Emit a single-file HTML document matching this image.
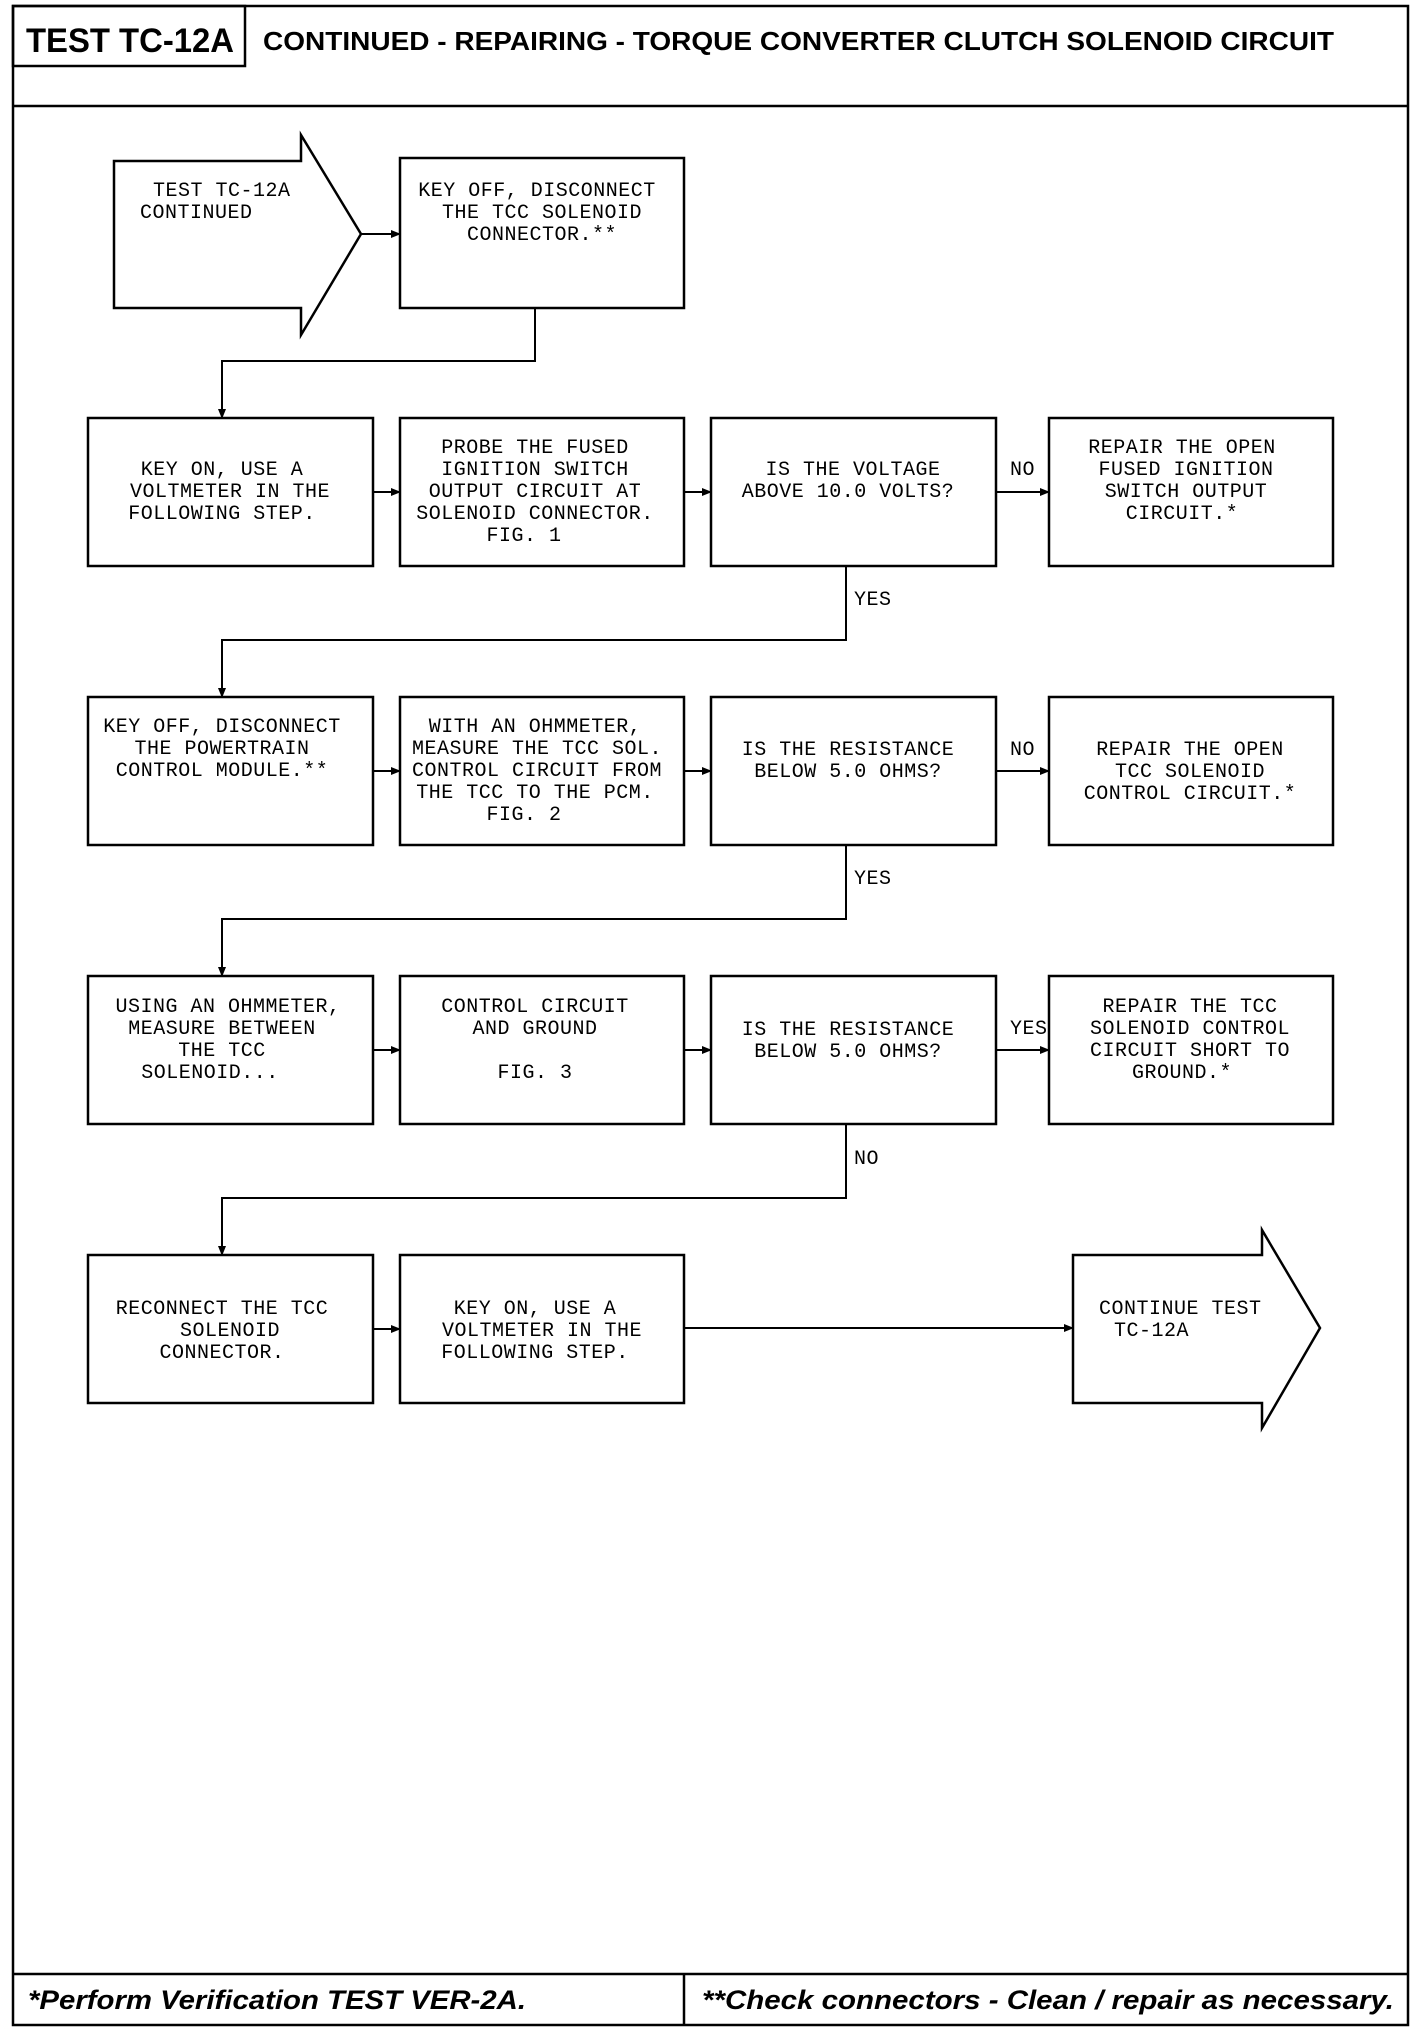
<!DOCTYPE html>
<html><head><meta charset="utf-8"><style>
html,body{margin:0;padding:0;background:#fff}
svg{display:block}
.t{font-family:"Liberation Mono",monospace;font-size:20px;letter-spacing:0.5px;fill:#000}
.b{fill:none;stroke:#000;stroke-width:2.5}
.l{fill:none;stroke:#000;stroke-width:2}
</style></head><body>
<svg width="1424" height="2032" viewBox="0 0 1424 2032" xmlns="http://www.w3.org/2000/svg">
<defs><marker id="a" markerWidth="10" markerHeight="10" refX="9" refY="5" orient="auto" markerUnits="userSpaceOnUse"><path d="M0,1 L10,5 L0,9 Z" fill="#000"/></marker></defs>
<rect x="13" y="6" width="1395" height="2019" class="b" stroke-width="3"/>
<line x1="13" y1="106" x2="1408" y2="106" class="b" stroke-width="3"/>
<rect x="13" y="6" width="232" height="60" class="b"/>
<text x="26" y="52" font-family="Liberation Sans,sans-serif" font-weight="bold" font-size="34" textLength="208" lengthAdjust="spacingAndGlyphs">TEST TC-12A</text>
<text x="263" y="50" font-family="Liberation Sans,sans-serif" font-weight="bold" font-size="26" textLength="1071" lengthAdjust="spacingAndGlyphs">CONTINUED - REPAIRING - TORQUE CONVERTER CLUTCH SOLENOID CIRCUIT</text>
<line x1="13" y1="1974" x2="1408" y2="1974" class="b" stroke-width="3"/>
<line x1="684" y1="1974" x2="684" y2="2025" class="b"/>
<text x="28" y="2009" font-family="Liberation Sans,sans-serif" font-weight="bold" font-style="italic" font-size="27" textLength="498" lengthAdjust="spacingAndGlyphs">*Perform Verification TEST VER-2A.</text>
<text x="702" y="2009" font-family="Liberation Sans,sans-serif" font-weight="bold" font-style="italic" font-size="27" textLength="692" lengthAdjust="spacingAndGlyphs">**Check connectors - Clean / repair as necessary.</text>

<!-- start arrow -->
<path d="M114,161 H301 V135 L361,234 L301,335 V308 H114 Z" class="b"/>
<text class="t" x="153" y="196">TEST TC-12A</text>
<text class="t" x="140" y="218">CONTINUED</text>
<rect x="400" y="158" width="284" height="150" class="b"/>
<text class="t" text-anchor="middle" x="537" y="196">KEY OFF, DISCONNECT</text>
<text class="t" text-anchor="middle" x="542" y="218">THE TCC SOLENOID</text>
<text class="t" text-anchor="middle" x="542" y="240">CONNECTOR.**</text>
<line x1="361" y1="234" x2="400" y2="234" class="l" marker-end="url(#a)"/>
<path d="M535,308 V361 H222 V418" class="l" marker-end="url(#a)"/>

<!-- row1 -->
<rect x="88" y="418" width="285" height="148" class="b"/>
<rect x="400" y="418" width="284" height="148" class="b"/>
<rect x="711" y="418" width="285" height="148" class="b"/>
<rect x="1049" y="418" width="284" height="148" class="b"/>
<g class="t" text-anchor="middle">
<text x="222" y="475">KEY ON, USE A</text><text x="230" y="497">VOLTMETER IN THE</text><text x="222" y="519">FOLLOWING STEP.</text>
<text x="535" y="453">PROBE THE FUSED</text><text x="535" y="475">IGNITION SWITCH</text><text x="535" y="497">OUTPUT CIRCUIT AT</text><text x="535" y="519">SOLENOID CONNECTOR.</text><text x="524" y="541">FIG. 1</text>
<text x="853" y="475">IS THE VOLTAGE</text><text x="848" y="497">ABOVE 10.0 VOLTS?</text>
<text x="1182" y="453">REPAIR THE OPEN</text><text x="1186" y="475">FUSED IGNITION</text><text x="1186" y="497">SWITCH OUTPUT</text><text x="1182" y="519">CIRCUIT.*</text>
</g>
<line x1="373" y1="492" x2="400" y2="492" class="l" marker-end="url(#a)"/>
<line x1="684" y1="492" x2="711" y2="492" class="l" marker-end="url(#a)"/>
<line x1="996" y1="492" x2="1049" y2="492" class="l" marker-end="url(#a)"/>
<text class="t" x="1010" y="475">NO</text>
<path d="M846,566 V640 H222 V697" class="l" marker-end="url(#a)"/>
<text class="t" x="854" y="605">YES</text>

<!-- row2 -->
<rect x="88" y="697" width="285" height="148" class="b"/>
<rect x="400" y="697" width="284" height="148" class="b"/>
<rect x="711" y="697" width="285" height="148" class="b"/>
<rect x="1049" y="697" width="284" height="148" class="b"/>
<g class="t" text-anchor="middle">
<text x="222" y="732">KEY OFF, DISCONNECT</text><text x="222" y="754">THE POWERTRAIN</text><text x="222" y="776">CONTROL MODULE.**</text>
<text x="535" y="732">WITH AN OHMMETER,</text><text x="537" y="754">MEASURE THE TCC SOL.</text><text x="537" y="776">CONTROL CIRCUIT FROM</text><text x="535" y="798">THE TCC TO THE PCM.</text><text x="524" y="820">FIG. 2</text>
<text x="848" y="755">IS THE RESISTANCE</text><text x="848" y="777">BELOW 5.0 OHMS?</text>
<text x="1190" y="755">REPAIR THE OPEN</text><text x="1190" y="777">TCC SOLENOID</text><text x="1190" y="799">CONTROL CIRCUIT.*</text>
</g>
<line x1="373" y1="771" x2="400" y2="771" class="l" marker-end="url(#a)"/>
<line x1="684" y1="771" x2="711" y2="771" class="l" marker-end="url(#a)"/>
<line x1="996" y1="771" x2="1049" y2="771" class="l" marker-end="url(#a)"/>
<text class="t" x="1010" y="755">NO</text>
<path d="M846,845 V919 H222 V976" class="l" marker-end="url(#a)"/>
<text class="t" x="854" y="884">YES</text>

<!-- row3 -->
<rect x="88" y="976" width="285" height="148" class="b"/>
<rect x="400" y="976" width="284" height="148" class="b"/>
<rect x="711" y="976" width="285" height="148" class="b"/>
<rect x="1049" y="976" width="284" height="148" class="b"/>
<g class="t" text-anchor="middle">
<text x="228" y="1012">USING AN OHMMETER,</text><text x="222" y="1034">MEASURE BETWEEN</text><text x="222" y="1056">THE TCC</text><text x="210" y="1078">SOLENOID...</text>
<text x="535" y="1012">CONTROL CIRCUIT</text><text x="535" y="1034">AND GROUND</text><text x="535" y="1078">FIG. 3</text>
<text x="848" y="1035">IS THE RESISTANCE</text><text x="848" y="1057">BELOW 5.0 OHMS?</text>
<text x="1190" y="1012">REPAIR THE TCC</text><text x="1190" y="1034">SOLENOID CONTROL</text><text x="1190" y="1056">CIRCUIT SHORT TO</text><text x="1182" y="1078">GROUND.*</text>
</g>
<line x1="373" y1="1050" x2="400" y2="1050" class="l" marker-end="url(#a)"/>
<line x1="684" y1="1050" x2="711" y2="1050" class="l" marker-end="url(#a)"/>
<line x1="996" y1="1050" x2="1049" y2="1050" class="l" marker-end="url(#a)"/>
<text class="t" x="1010" y="1034">YES</text>
<path d="M846,1124 V1198 H222 V1255" class="l" marker-end="url(#a)"/>
<text class="t" x="854" y="1164">NO</text>

<!-- row4 -->
<rect x="88" y="1255" width="285" height="148" class="b"/>
<rect x="400" y="1255" width="284" height="148" class="b"/>
<path d="M1073,1255 H1262 V1230 L1320,1328 L1262,1428 V1403 H1073 Z" class="b"/>
<g class="t" text-anchor="middle">
<text x="222" y="1314">RECONNECT THE TCC</text><text x="230" y="1336">SOLENOID</text><text x="222" y="1358">CONNECTOR.</text>
<text x="535" y="1314">KEY ON, USE A</text><text x="542" y="1336">VOLTMETER IN THE</text><text x="535" y="1358">FOLLOWING STEP.</text>
</g>
<text class="t" x="1099" y="1314">CONTINUE TEST</text>
<text class="t" x="1114" y="1336">TC-12A</text>
<line x1="373" y1="1329" x2="400" y2="1329" class="l" marker-end="url(#a)"/>
<line x1="684" y1="1328" x2="1073" y2="1328" class="l" marker-end="url(#a)"/>
</svg>
</body></html>
